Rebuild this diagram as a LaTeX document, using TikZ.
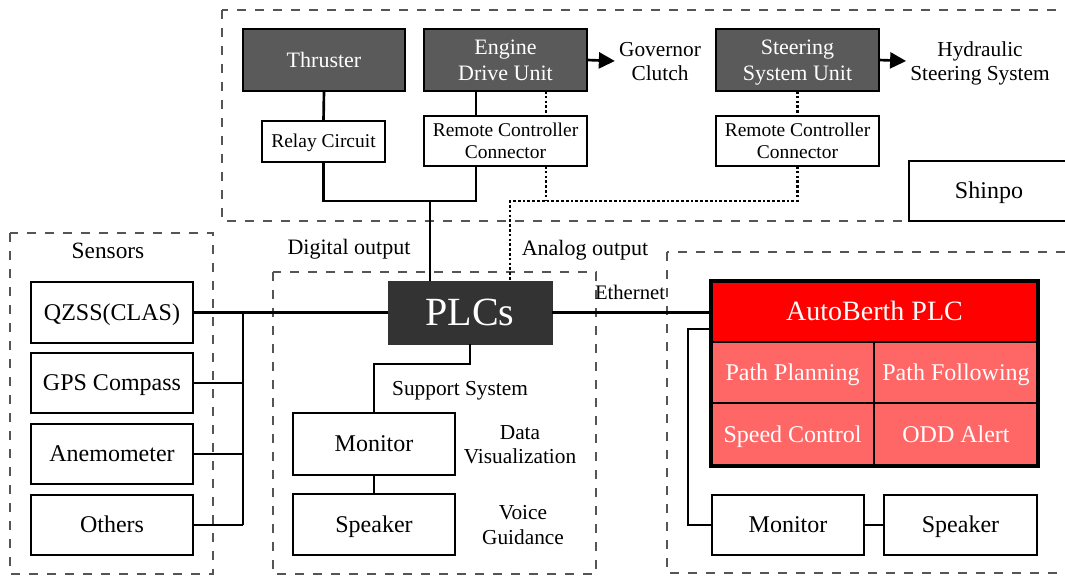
\documentclass[tikz,border=0pt]{standalone}
\usepackage{fontspec}
\setmainfont{Liberation Serif}
\usetikzlibrary{arrows.meta}

\definecolor{unitgray}{HTML}{5A5A5A}
\definecolor{plcgray}{HTML}{333333}
\definecolor{abred}{HTML}{FF0000}
\definecolor{abcell}{HTML}{FF6666}
\definecolor{groupgray}{HTML}{555555}

\newcommand\fsz[2]{\fontsize{#1}{#2}\selectfont}
% a text line measured by its capital height only, so that lines centre evenly
\newcommand\capl[1]{\rule{0pt}{0.66em}\smash{#1}}

\tikzset{
  sz/.style 2 args={minimum width=#1*0.75pt, minimum height=#2*0.75pt},
  basebox/.style={inner sep=0pt, outer sep=0pt, align=center},
  unit/.style={basebox, draw=black, line width=2pt, fill=unitgray, text=white, font=\fsz{16.5pt}{19.5pt}},
  smallbox/.style={basebox, draw=black, line width=2pt, fill=white, font=\fsz{14.6pt}{16.5pt}},
  plainbox/.style={basebox, draw=black, line width=2pt, fill=white, font=\fsz{18pt}{20pt}},
  plcbox/.style={basebox, draw=plcgray, fill=plcgray, text=white, font=\fsz{30pt}{32pt}},
  abtitle/.style={basebox, draw=black, line width=1.5pt, fill=abred, text=white, font=\fsz{21pt}{23pt}},
  abpart/.style={basebox, draw=black, line width=1.5pt, fill=abcell, text=white, font=\fsz{18pt}{20pt}},
  lbl/.style={inner sep=3pt, align=center, font=\fsz{16pt}{18pt}},
  conn/.style={draw=black, line width=2pt},
  dots/.style={draw=black, line width=2pt, dash pattern=on 2pt off 1.6pt},
  group/.style={draw=groupgray, line width=2pt, dash pattern=on 7pt off 6.5pt},
  tip/.style={-{Triangle[length=12pt,width=12pt]}}
}

\begin{document}
\begin{tikzpicture}[x=0.75pt,y=-0.75pt]
\clip (0,0) rectangle (1065,579);
\fill[white] (0,0) rectangle (1065,579);

% group outlines
\draw[group] (222,10) rectangle (1085,221);
\draw[group] (10,233) rectangle (213,574);
\draw[group] (273,272) rectangle (596,574);
\draw[group] (667,252) rectangle (1085,573);

% actuator side
\node[unit, sz={162}{62}] (thruster) at (324,60) {\capl{Thruster}};
\node[unit, sz={163}{62}] (engine) at (505.5,60) {\capl{Engine}\\\capl{Drive Unit}};
\node[unit, sz={163}{62}] (steer) at (797.5,60) {\capl{Steering}\\\capl{System Unit}};
\node[smallbox, sz={123}{41}] (relay) at (323.5,141.5) {\capl{Relay Circuit}};
\node[smallbox, sz={163}{50}] (rcc1) at (505.5,141) {\capl{Remote Controller}\\\capl{Connector}};
\node[smallbox, sz={163}{50}] (rcc2) at (797.5,141) {\capl{Remote Controller}\\\capl{Connector}};
\node[plainbox, sz={160}{60}] (shinpo) at (989,191) {\capl{Shinpo}};
\node[lbl, font=\fsz{16pt}{18pt}] (gov) at (660,61) {\capl{Governor}\\\capl{Clutch}};
\node[lbl, font=\fsz{16pt}{18pt}] (hyd) at (980,61) {\capl{Hydraulic}\\\capl{Steering System}};

% central controller
\node[plcbox, sz={164}{63}] (plc) at (470,312.5) {\capl{PLCs}};

% sensors
\node[lbl, font=\fsz{17.5pt}{19pt}] (senslbl) at (108,251) {\capl{Sensors}};
\node[plainbox, sz={162}{61}] (qzss) at (112,312.5) {\capl{QZSS(CLAS)}};
\node[plainbox, sz={162}{60}] (gps) at (112,383) {\capl{GPS Compass}};
\node[plainbox, sz={162}{60}] (anem) at (112,454) {\capl{Anemometer}};
\node[plainbox, sz={162}{60}] (others) at (112,525) {\capl{Others}};

% support system
\node[plainbox, sz={162}{62}] (mon1) at (374,444) {\capl{Monitor}};
\node[plainbox, sz={162}{61}] (spk1) at (374,524.5) {\capl{Speaker}};
\node[lbl] (suplbl) at (460,388) {\capl{Support System}};
\node[lbl, font=\fsz{16pt}{18pt}] (datalbl) at (520,444) {\capl{Data}\\\capl{Visualization}};
\node[lbl, font=\fsz{16pt}{18.75pt}] (voicelbl) at (523,524.5) {\capl{Voice}\\\capl{Guidance}};

% output labels
\node[lbl, font=\fsz{16.5pt}{18pt}] (diglbl) at (349,247) {\capl{Digital output}};
\node[lbl, font=\fsz{16.5pt}{18pt}] (analbl) at (585,248) {\capl{Analog output}};
\node[lbl, font=\fsz{15.5pt}{17pt}] (ethlbl) at (630,293) {\capl{Ethernet}};

% AutoBerth PLC
\node[abtitle, sz={327}{61}] (abt) at (874.5,311.5) {\capl{AutoBerth PLC}};
\node[abpart, sz={163}{61}] (pp) at (792.5,372.5) {\capl{Path Planning}};
\node[abpart, sz={164}{61}] (pf) at (956,372.5) {\capl{Path Following}};
\node[abpart, sz={163}{63}] (spc) at (792.5,434.5) {\capl{Speed Control}};
\node[abpart, sz={164}{63}] (odd) at (956,434.5) {\capl{ODD Alert}};
\node[basebox, draw=black, line width=3pt, sz={327}{185}] (ab) at (874.5,373.5) {};
\node[plainbox, sz={152}{60}] (mon2) at (788,525) {\capl{Monitor}};
\node[plainbox, sz={153}{60}] (spk2) at (960.5,525) {\capl{Speaker}};

% digital output tree
\coordinate (ex) at (476,0);
\coordinate (dj) at (430,201);
\draw[conn] (thruster.south) -- (relay.north);
\draw[conn] (engine.south -| ex) -- (rcc1.north -| ex);
\draw[conn] (relay.south) |- (dj) -| (rcc1.south -| ex);
\draw[conn] (dj) -- (plc.north -| dj);

% analog output tree
\coordinate (ax) at (546,0);
\coordinate (aj) at (510,201);
\draw[dots] (engine.south -| ax) -- (rcc1.north -| ax);
\draw[dots] (steer.south) -- (rcc2.north);
\draw[dots] (rcc2.south) |- (aj) -- (plc.north -| aj);
\draw[dots] (rcc1.south -| ax) -- (ax |- aj);

% actuator outputs
\draw[conn, tip] (engine.east) -- (gov.west);
\draw[conn, tip] (steer.east) -- (hyd.west);

% sensor bus
\coordinate (sb) at (243,0);
\draw[conn] (qzss.east) -- (plc.west);
\draw[conn] (qzss.east -| sb) -- (others.east -| sb);
\draw[conn] (gps.east) -- (gps.east -| sb);
\draw[conn] (anem.east) -- (anem.east -| sb);
\draw[conn] (others.east) -- (others.east -| sb);

% support system wiring
\coordinate (sj) at (470,364);
\draw[conn] (plc.south) -- (sj) -| (mon1.north);
\draw[conn] (mon1.south) -- (spk1.north);

% ethernet link and AutoBerth peripherals
\draw[conn] (plc.east) -- (plc.east -| ab.west);
\coordinate (mj) at (688,329);
\draw[conn] (mj -| ab.west) -- (mj) |- (mon2.west);
\draw[conn] (mon2.east) -- (spk2.west);
\end{tikzpicture}
\end{document}
